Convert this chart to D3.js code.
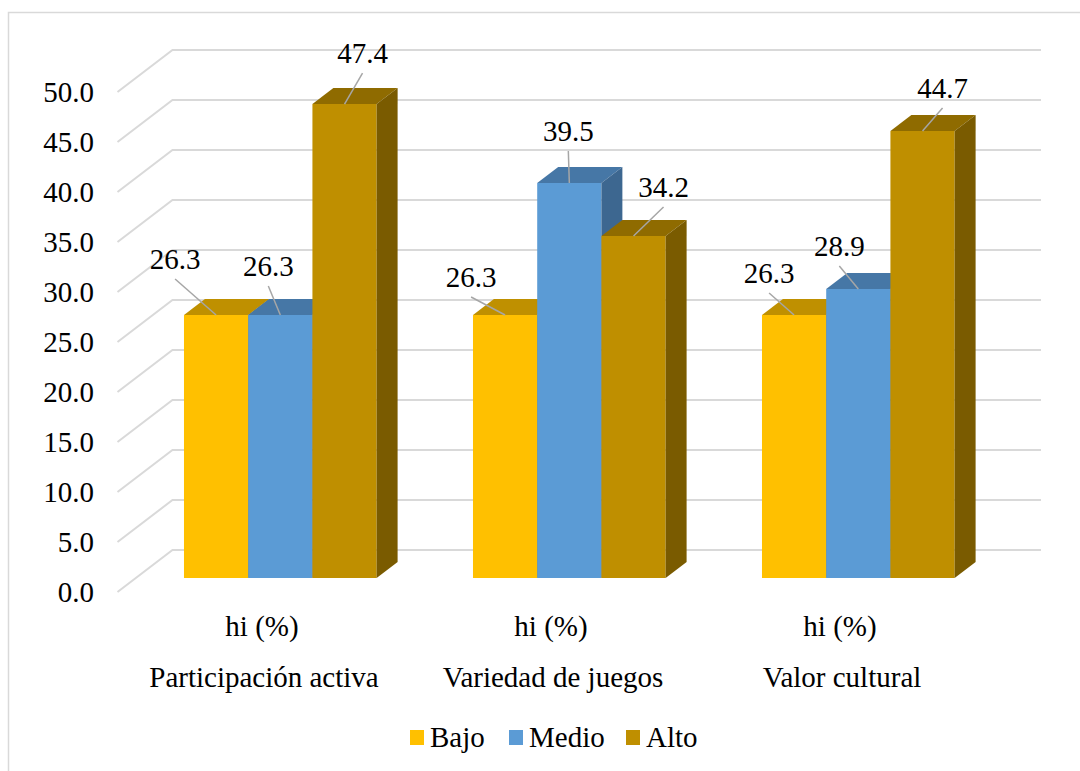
<!DOCTYPE html>
<html>
<head>
<meta charset="utf-8">
<script src="https://cdn.jsdelivr.net/npm/d3@7"></script>
</head>
<body style="margin:0">
<svg id="chart" width="1080" height="771" font-family="Liberation Serif, Times New Roman, serif"></svg>
<script>
// Category, series and value tables
const categories = ["Participación activa", "Variedad de juegos", "Valor cultural"];
const categorySubLabel = "hi (%)";
const seriesNames = ["Bajo", "Medio", "Alto"];
const bajo  = [26.3, 26.3, 26.3];
const medio = [26.3, 39.5, 28.9];
const alto  = [47.4, 34.2, 44.7];
const yTicks = [0, 5, 10, 15, 20, 25, 30, 35, 40, 45, 50];

// Face colours per series: front, top, side
const faceColors = {
  Bajo:  { front: "#FFC000", top: "#BF9000", side: "#9C7600" },
  Medio: { front: "#5B9BD5", top: "#4677A6", side: "#3D6790" },
  Alto:  { front: "#BF8F00", top: "#8F6B00", side: "#7A5B00" }
};

// Hand-placed data label offsets (from the front-top centre of each bar)
const labelNudge = [
  [[-41, -46], [-12, -39], [18, -41]],
  [[-34, -28], [-1, -42], [30, -39]],
  [[-25, -32], [-19, -33], [20, -33]]
];

// Legend entry left edges
const legendX = [410, 509, 626];

const values = { Bajo: bajo, Medio: medio, Alto: alto };
const svg = d3.select("#chart");

// Outer chart frame
svg.append("rect")
  .attr("x", 8.5).attr("y", 12.5).attr("width", 1100).attr("height", 800)
  .attr("fill", "none").attr("stroke", "#d9d9d9").attr("stroke-width", 1.5);

// Scales on the front plane; depth is added as an oblique offset
const x0 = 117.5, x1 = 984.5;
const xGroup = d3.scaleBand().domain(categories).range([x0, x1]).padding(0);
const xSeries = d3.scaleBand().domain(seriesNames).range([0, xGroup.bandwidth()])
  .paddingInner(0).paddingOuter(0.75);
const y = d3.scaleLinear().domain([0, 50]).range([592, 92]);
const depth = { dx: 55, dy: -42 };
const wallRight = 1041;
const P = (x, v, z) => [x + depth.dx * z, y(v) + depth.dy * z];

function addText(g, x, yy, s, anchor) {
  return g.append("text")
    .attr("x", x).attr("y", yy)
    .attr("text-anchor", anchor || "middle")
    .attr("font-family", "Liberation Serif, Times New Roman, serif")
    .attr("font-size", 29)
    .attr("fill", "#000")
    .style("font-family", "'Liberation Serif', 'Times New Roman', serif")
    .text(s);
}

// Gridlines: side-wall diagonal then back-wall horizontal
const grid = svg.append("g");
yTicks.forEach(t => {
  const a = P(x0, t, 0), b = P(x0, t, 1);
  grid.append("polyline")
    .attr("points", [a, b, [wallRight, b[1]]].map(p => p.join(",")).join(" "))
    .attr("fill", "none").attr("stroke", "#d9d9d9").attr("stroke-width", 2);
});

// Value axis labels
yTicks.forEach(t => {
  addText(svg, 94, y(t) + 9.5, d3.format(".1f")(t), "end");
});

// 3D columns, painted left to right
const z0 = 0.333, z1 = 0.714;
const bars = svg.append("g");
const poly = pts => pts.map(p => p.join(",")).join(" ");
const tops = [];
categories.forEach((cat, ci) => {
  seriesNames.forEach((s, si) => {
    const v = values[s][ci];
    const xl = xGroup(cat) + xSeries(s);
    const w = xSeries.bandwidth();
    const c = faceColors[s];
    bars.append("polygon")
      .attr("points", poly([P(xl, 0, z0), P(xl + w, 0, z0), P(xl + w, v, z0), P(xl, v, z0)]))
      .attr("fill", c.front);
    bars.append("polygon")
      .attr("points", poly([P(xl, v, z0), P(xl + w, v, z0), P(xl + w, v, z1), P(xl, v, z1)]))
      .attr("fill", c.top);
    bars.append("polygon")
      .attr("points", poly([P(xl + w, 0, z0), P(xl + w, v, z0), P(xl + w, v, z1), P(xl + w, 0, z1)]))
      .attr("fill", c.side);
    tops.push({ ci, si, v, pt: P(xl + w / 2, v, z0) });
  });
});

// Data labels with leader lines
tops.forEach(d => {
  const [ndx, ndy] = labelNudge[d.ci][d.si];
  const tx = d.pt[0] + ndx, ty = d.pt[1] + ndy;
  svg.append("line")
    .attr("x1", tx).attr("y1", ty + 10)
    .attr("x2", d.pt[0]).attr("y2", d.pt[1])
    .attr("stroke", "#a6a6a6").attr("stroke-width", 1.5);
  addText(svg, tx, ty, d3.format(".1f")(d.v), "middle");
});

// Category axis labels (centred on the front plane band)
categories.forEach(cat => {
  const cx = xGroup(cat) + xGroup.bandwidth() / 2;
  addText(svg, cx, 636, categorySubLabel, "middle");
  addText(svg, cx + 2, 687, cat, "middle");
});

// Legend
seriesNames.forEach((s, i) => {
  svg.append("rect").attr("x", legendX[i]).attr("y", 730).attr("width", 14).attr("height", 15)
    .attr("fill", faceColors[s].front);
  addText(svg, legendX[i] + 20, 747, s, "start");
});
</script>
</body>
</html>
